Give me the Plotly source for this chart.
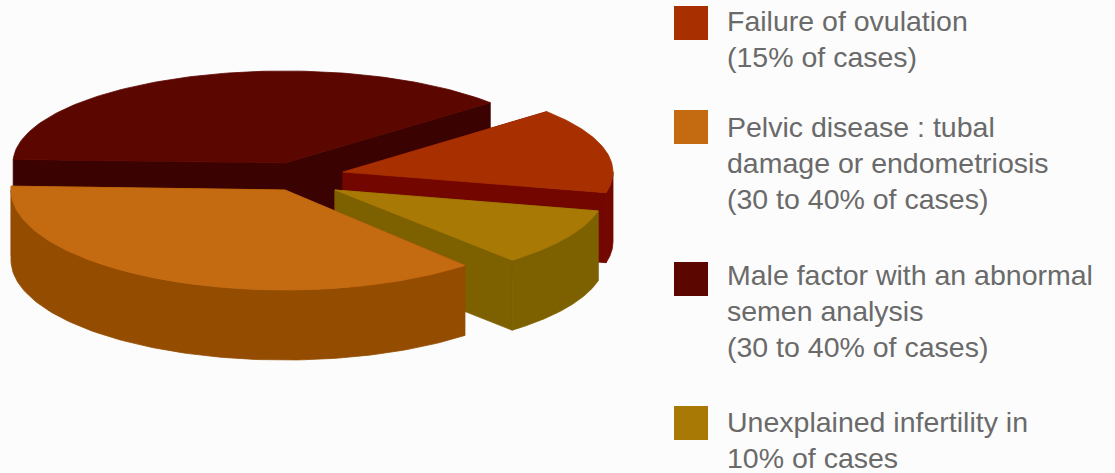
import numpy as np
import plotly.graph_objects as go

# Data
categories = ["Failure of ovulation", "Pelvic disease", "Male factor", "Unexplained infertility"]
values = [15, 37, 38, 10]
legend_lines = [
    ["Failure of ovulation", "(15% of cases)"],
    ["Pelvic disease : tubal", "damage or endometriosis", "(30 to 40% of cases)"],
    ["Male factor with an abnormal", "semen analysis", "(30 to 40% of cases)"],
    ["Unexplained infertility in", "10% of cases"],
]
top_colors = ["#a83000", "#c46a10", "#5c0600", "#a87a05"]
side_colors = ["#730700", "#944c00", "#3a0200", "#7d6000"]

# Pie geometry, in the pixel space of the picture
W, H = 1115, 473
START_ANGLE = 41.0
THICKNESS = 70
slice_order = [0, 3, 1, 2]            # clockwise from the start angle
paint_order = [2, 0, 3, 1]            # back to front
centers = {0: (343, 172), 1: (285, 190), 2: (285, 163), 3: (335, 190)}
radii = {0: (270, 92), 1: (274, 100), 2: (272, 92), 3: (270, 93)}
legend_square_y = [23, 127, 279, 423]
legend_first_line_y = [21, 127, 275, 422]
LINE_STEP = 36
SQUARE_X, TEXT_X = 691, 725

total = sum(values)
spans = {}
a = START_ANGLE
for i in slice_order:
    b = a - 360.0 * values[i] / total
    spans[i] = (a, b)
    a = b


def arc(i, a0, a1, drop=0.0):
    cx, cy = centers[i]
    rx, ry = radii[i]
    t = np.radians(np.linspace(a0, a1, 120))
    return cx + rx * np.cos(t), cy - ry * np.sin(t) + drop


def poly(xs, ys, color):
    return go.Scatter(x=xs, y=ys, mode="lines", line=dict(color=color, width=0.8),
                      fill="toself", fillcolor=color, hoverinfo="skip", showlegend=False)


fig = go.Figure()
for i in paint_order:
    a0, a1 = spans[i]
    cx, cy = centers[i]
    side, top = side_colors[i], top_colors[i]
    # cut walls
    for ang in (a0, a1):
        ex, ey = arc(i, ang, ang)
        ex0, ey0 = float(ex[0]), float(ey[0])
        fig.add_trace(poly([cx, ex0, ex0, cx, cx],
                           [cy, ey0, ey0 + THICKNESS, cy + THICKNESS, cy], side))
    # outer rim, front-facing part only
    lo, hi = sorted((a0, a1))
    front_lo, front_hi = max(lo, -180.0), min(hi, 0.0)
    if front_hi > front_lo:
        x1, y1 = arc(i, front_lo, front_hi)
        x2, y2 = arc(i, front_hi, front_lo, THICKNESS)
        fig.add_trace(poly(np.r_[x1, x2, x1[0]], np.r_[y1, y2, y1[0]], side))
    # top face
    xt, yt = arc(i, a0, a1)
    fig.add_trace(poly(np.r_[cx, xt, cx], np.r_[cy, yt, cy], top))

# Legend keys
fig.add_trace(go.Scatter(x=[SQUARE_X] * len(categories), y=legend_square_y, mode="markers",
                         marker=dict(symbol="square", size=34, color=top_colors, line=dict(width=0)),
                         text=categories, hoverinfo="text", showlegend=False))

for lines, y0 in zip(legend_lines, legend_first_line_y):
    for k, line in enumerate(lines):
        fig.add_annotation(x=TEXT_X, y=y0 + k * LINE_STEP, text=line, showarrow=False,
                           xanchor="left", yanchor="middle", align="left",
                           font=dict(family="Liberation Sans", size=28.5, color="#6a6a6a"))

fig.update_layout(
    width=W, height=H, margin=dict(l=0, r=0, t=0, b=0),
    paper_bgcolor="#fcfcfc", plot_bgcolor="#fcfcfc",
    xaxis=dict(range=[0, W], visible=False, fixedrange=True),
    yaxis=dict(range=[H, 0], visible=False, fixedrange=True),
)
fig.write_html("out.html", config={"displayModeBar": False},
               post_script="document.body.style.margin='0';document.body.style.overflow='hidden';")
